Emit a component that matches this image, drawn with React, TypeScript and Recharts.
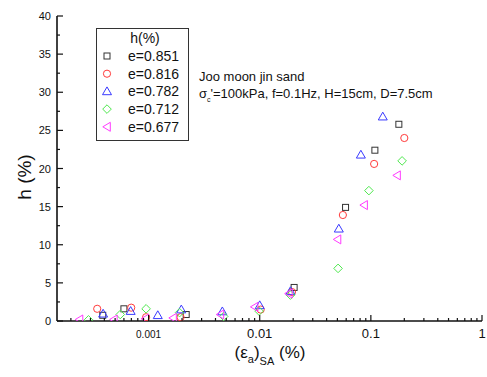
import React from "react";
import { ScatterChart, Scatter, XAxis, YAxis, Legend } from "recharts";

// values
const sqX = [0.000387, 0.0006, 0.00218, 0.0204, 0.0592, 0.1087, 0.1786];
const sqH = [0.75, 1.6, 0.85, 4.4, 14.9, 22.4, 25.8];

const ciX = [0.000345, 0.000698, 0.00095, 0.00194, 0.0102, 0.0195, 0.056, 0.107, 0.2];
const ciH = [1.6, 1.75, 0.5, 0.5, 1.5, 3.8, 13.9, 20.6, 24.0];

const trX = [0.00039, 0.00069, 0.00121, 0.00197, 0.00461, 0.01, 0.0189, 0.0515, 0.0813, 0.128];
const trH = [0.95, 1.3, 0.75, 1.5, 1.25, 2.05, 3.9, 12.1, 21.8, 26.8];

const diX = [0.000288, 0.000556, 0.00095, 0.0019, 0.00474, 0.00987, 0.0189, 0.0507, 0.096, 0.191];
const diH = [0.15, 0.85, 1.6, 1.1, 0.6, 1.3, 3.4, 6.9, 17.1, 21.0];

const ltX = [0.000239, 0.000487, 0.000934, 0.00166, 0.00443, 0.009, 0.0183, 0.0501, 0.0869, 0.172];
const ltH = [0.2, 0.2, 0.3, 0.4, 0.85, 1.85, 3.6, 10.7, 15.2, 19.1];

const xMajor = [0.001, 0.01, 0.1, 1];
const xLabels = ["0.001", "0.01", "0.1", "1"];
const xMinor = [
  0.0002, 0.0003, 0.0004, 0.0005, 0.0006, 0.0007, 0.0008, 0.0009,
  0.002, 0.003, 0.004, 0.005, 0.006, 0.007, 0.008, 0.009,
  0.02, 0.03, 0.04, 0.05, 0.06, 0.07, 0.08, 0.09,
  0.2, 0.3, 0.4, 0.5, 0.6, 0.7, 0.8, 0.9,
];
const xTicks = [...xMinor, ...xMajor].sort((a, b) => a - b);

const yMajor = [0, 5, 10, 15, 20, 25, 30, 35, 40];
const yMinor = [2.5, 7.5, 12.5, 17.5, 22.5, 27.5, 32.5, 37.5];
const yTicks = [...yMajor, ...yMinor].sort((a, b) => a - b);

const FONT = "Arial, 'Liberation Sans', sans-serif";
const INK = "#111";

type Kind = "square" | "circle" | "triangle" | "diamond" | "left";

const series: { name: string; kind: Kind; color: string; xs: number[]; hs: number[] }[] = [
  { name: "e=0.851", kind: "square", color: "#333333", xs: sqX, hs: sqH },
  { name: "e=0.816", kind: "circle", color: "#ff3b3b", xs: ciX, hs: ciH },
  { name: "e=0.782", kind: "triangle", color: "#3a3aff", xs: trX, hs: trH },
  { name: "e=0.712", kind: "diamond", color: "#4ee84e", xs: diX, hs: diH },
  { name: "e=0.677", kind: "left", color: "#ff3bff", xs: ltX, hs: ltH },
];

function Marker({ kind, cx, cy, color }: { kind: Kind; cx: number; cy: number; color: string }) {
  const p = { fill: "none", stroke: color, strokeWidth: 1 };
  if (kind === "square") return <rect x={cx - 3} y={cy - 3} width={6} height={6} {...p} />;
  if (kind === "circle") return <circle cx={cx} cy={cy} r={3.6} {...p} />;
  if (kind === "triangle")
    return <polygon points={`${cx},${cy - 4.5} ${cx - 4.5},${cy + 3.3} ${cx + 4.5},${cy + 3.3}`} {...p} />;
  if (kind === "diamond")
    return <polygon points={`${cx},${cy - 4.3} ${cx + 4.3},${cy} ${cx},${cy + 4.3} ${cx - 4.3},${cy}`} {...p} />;
  return <polygon points={`${cx - 4.2},${cy} ${cx + 3.3},${cy - 4.5} ${cx + 3.3},${cy + 4.5}`} {...p} />;
}

const BottomTick = ({ x, y, payload }: any) => {
  const i = xMajor.indexOf(payload.value);
  const major = i >= 0;
  return (
    <g>
      <line x1={x} x2={x} y1={y} y2={y - (major ? 6 : 3)} stroke={INK} strokeWidth={1.2} />
      {major && (
        <text x={x} y={y + 17} textAnchor="middle" fontSize={i === 0 ? 10 : 13} fill={INK} fontFamily={FONT}>
          {xLabels[i]}
        </text>
      )}
    </g>
  );
};

const TopTick = ({ x, y, payload }: any) => {
  const major = xMajor.includes(payload.value);
  return <line x1={x} x2={x} y1={y} y2={y + (major ? 6 : 3)} stroke={INK} strokeWidth={1.2} />;
};

const LeftTick = ({ x, y, payload }: any) => {
  const major = yMajor.includes(payload.value);
  return (
    <g>
      <line x1={x} x2={x + (major ? 6 : 3)} y1={y} y2={y} stroke={INK} strokeWidth={1.2} />
      {major && (
        <text x={x - 6} y={y + 4} textAnchor="end" fontSize={11} fill={INK} fontFamily={FONT}>
          {payload.value}
        </text>
      )}
    </g>
  );
};

const RightTick = ({ x, y, payload }: any) => {
  const major = yMajor.includes(payload.value);
  return <line x1={x} x2={x - (major ? 6 : 3)} y1={y} y2={y} stroke={INK} strokeWidth={1.2} />;
};

const LegendBox = () => (
  <svg width={93} height={113} style={{ display: "block" }}>
    <rect x={0.5} y={0.5} width={92} height={112} fill="white" stroke="#333" />
    <text x={49} y={15} textAnchor="middle" fontSize={14} fill={INK} fontFamily={FONT}>
      h(%)
    </text>
    {series.map((s, i) => (
      <g key={s.name}>
        <Marker kind={s.kind} cx={11} cy={28 + i * 17.7} color={s.color} />
        <text x={32} y={33 + i * 17.7} fontSize={14} fill={INK} fontFamily={FONT}>
          {s.name}
        </text>
      </g>
    ))}
  </svg>
);

const frame = { stroke: INK, strokeWidth: 1.6 };

export default function App() {
  return (
    <div style={{ position: "absolute", left: 0, top: 0, width: 487, height: 377, background: "#fff", fontFamily: FONT }}>
      <ScatterChart width={487} height={377} margin={{ top: 16, right: 5, bottom: 0, left: 0 }}>
        <XAxis
          xAxisId="bottom"
          type="number"
          dataKey="x"
          scale="log"
          domain={[0.00015, 1]}
          allowDataOverflow
          ticks={xTicks}
          interval={0}
          tickSize={0}
          tickMargin={0}
          tick={<BottomTick />}
          height={56}
          axisLine={frame}
        />
        <XAxis
          xAxisId="top"
          orientation="top"
          type="number"
          dataKey="x"
          scale="log"
          domain={[0.00015, 1]}
          allowDataOverflow
          ticks={xTicks}
          interval={0}
          tickSize={0}
          tickMargin={0}
          tick={<TopTick />}
          height={0}
          axisLine={frame}
        />
        <YAxis
          yAxisId="left"
          type="number"
          dataKey="h"
          domain={[0, 40]}
          allowDataOverflow
          ticks={yTicks}
          interval={0}
          tickSize={0}
          tickMargin={0}
          tick={<LeftTick />}
          width={57}
          axisLine={frame}
        />
        <YAxis
          yAxisId="right"
          orientation="right"
          type="number"
          dataKey="h"
          domain={[0, 40]}
          allowDataOverflow
          ticks={yTicks}
          interval={0}
          tickSize={0}
          tickMargin={0}
          tick={<RightTick />}
          width={0}
          axisLine={frame}
        />
        <Legend
          layout="vertical"
          align="center"
          verticalAlign="middle"
          content={<LegendBox />}
          wrapperStyle={{ left: 96, top: 28, width: 93, height: 113 }}
        />
        {series.map((s) => (
          <Scatter
            key={s.name}
            name={s.name}
            xAxisId="bottom"
            yAxisId="left"
            data={s.xs.map((x, i) => ({ x, h: s.hs[i] }))}
            isAnimationActive={false}
            shape={(p: any) => <Marker kind={s.kind} cx={p.cx} cy={p.cy} color={s.color} />}
          />
        ))}
      </ScatterChart>

      <div style={{ position: "absolute", left: 199, top: 69, fontSize: 13, lineHeight: "16.5px", color: INK, whiteSpace: "nowrap" }}>
        <div>Joo moon jin sand</div>
        <div>
          σ<sub style={{ fontSize: 7, verticalAlign: "-4px" }}>c</sub>'=100kPa, f=0.1Hz, H=15cm, D=7.5cm
        </div>
      </div>

      <div
        style={{
          position: "absolute",
          left: 25,
          top: 177,
          transform: "translate(-50%, -50%) rotate(-90deg)",
          fontSize: 19,
          color: INK,
          whiteSpace: "nowrap",
        }}
      >
        h (%)
      </div>

      <div
        style={{
          position: "absolute",
          left: 270,
          top: 355,
          transform: "translate(-50%, -50%)",
          fontSize: 17,
          color: INK,
          whiteSpace: "nowrap",
        }}
      >
        (ε<span style={{ fontSize: 11, verticalAlign: "-5px" }}>a</span>)
        <span style={{ fontSize: 11, verticalAlign: "-7px" }}>SA</span> (%)
      </div>
    </div>
  );
}
